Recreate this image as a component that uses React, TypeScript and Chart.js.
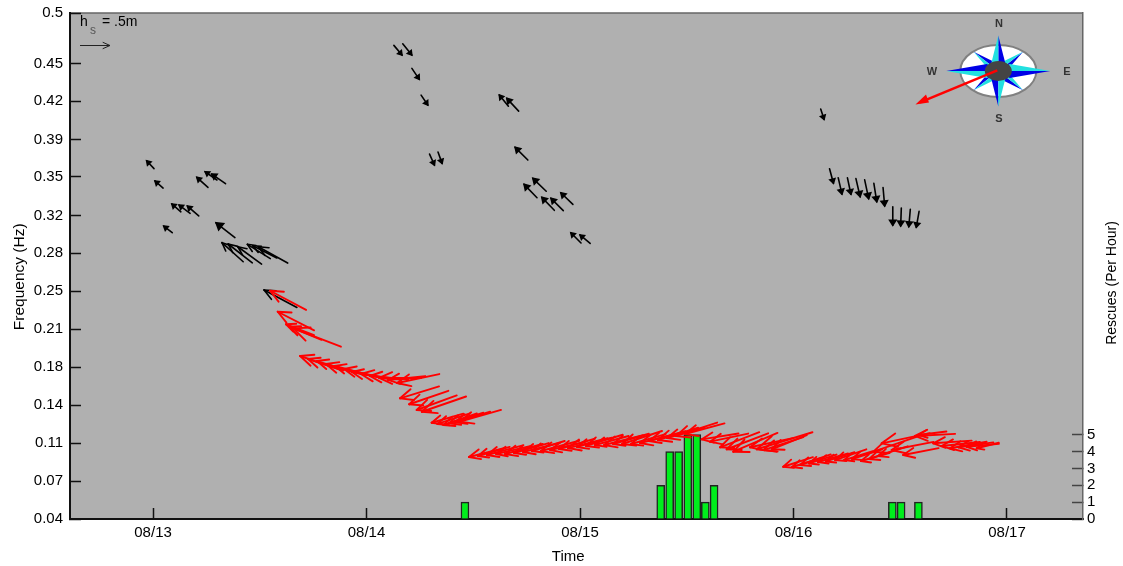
import React, { useEffect, useRef } from "react";
import { Chart, registerables } from "chart.js";

Chart.register(...registerables);

// Wave components: time in days of August, frequency (Hz), height (m), bearing of the tail seen from the head (deg)
const blackTimes = [12.970, 13.009, 13.088, 13.122, 13.161, 13.050, 13.205, 13.244, 13.275, 13.295, 13.323, 13.352, 13.397, 13.442, 13.467, 13.493, 13.520,
  14.166, 14.212, 14.247, 14.287, 14.318, 14.354,
  14.622, 14.657, 14.696, 14.779, 14.738, 14.821, 14.864, 14.910, 14.957, 15.000,
  16.143, 16.187, 16.227, 16.269, 16.312, 16.352, 16.390, 16.427, 16.465, 16.502, 16.540, 16.575];
const blackFreqs = [0.3657, 0.3473, 0.3264, 0.3254, 0.3245, 0.3063, 0.3506, 0.3557, 0.3536, 0.3093, 0.2912, 0.2900, 0.2875, 0.2897, 0.2884, 0.2875, 0.2482,
  0.4618, 0.4618, 0.4397, 0.4163, 0.3618, 0.3633,
  0.4254, 0.4224, 0.3779, 0.3497, 0.3442, 0.3324, 0.3315, 0.3366, 0.3002, 0.2982,
  0.4033, 0.3452, 0.3354, 0.3352, 0.3330, 0.3312, 0.3284, 0.3245, 0.3070, 0.3063, 0.3057, 0.3052];
const blackHeights = [0.18, 0.18, 0.2, 0.23, 0.25, 0.18, 0.25, 0.24, 0.28, 0.4, 0.475, 0.51, 0.49, 0.45, 0.45, 0.56, 0.62,
  0.21, 0.24, 0.22, 0.2, 0.2, 0.2,
  0.24, 0.29, 0.3, 0.31, 0.31, 0.3, 0.29, 0.28, 0.24, 0.22,
  0.18, 0.25, 0.28, 0.28, 0.31, 0.32, 0.31, 0.31, 0.31, 0.3, 0.29, 0.27];
const blackBearings = [137, 131, 131, 127, 131, 128, 132, 125, 125, 128, 132, 128, 126, 122, 117, 119, 118,
  320, 321, 326, 326, 336, 340,
  141, 137, 135, 134, 136, 136, 135, 134, 135, 130,
  342, 345, 347, 348, 347, 348, 351, 355, 0, 2, 5, 10];

const redTimes = [13.548, 13.584, 13.623, 13.638, 13.657,
  13.689, 13.726, 13.768, 13.810, 13.852, 13.895, 13.932, 13.974, 14.016, 14.059, 14.101, 14.143,
  14.157, 14.200, 14.235, 14.259,
  14.305, 14.332, 14.360, 14.386, 14.415, 14.438,
  14.480, 14.522, 14.564, 14.607, 14.649, 14.691, 14.733, 14.775, 14.817, 14.860, 14.902, 14.944, 14.986, 15.028, 15.070, 15.113, 15.155, 15.197, 15.239, 15.281, 15.323, 15.365, 15.408, 15.450, 15.492,
  15.570, 15.609, 15.656, 15.687, 15.718, 15.796, 15.828, 15.859, 15.898,
  15.952, 15.993, 16.031, 16.073, 16.115, 16.152, 16.195, 16.237, 16.274, 16.316, 16.354, 16.396,
  16.374, 16.413, 16.460, 16.514, 16.569, 16.585, 16.655, 16.694, 16.733, 16.772, 16.811, 16.858];
const redFreqs = [0.2475, 0.2284, 0.217, 0.2148, 0.2133,
  0.1882, 0.1854, 0.1836, 0.1809, 0.1791, 0.1764, 0.1736, 0.1718, 0.17, 0.1682, 0.1664, 0.1636,
  0.1497, 0.1443, 0.1391, 0.1375,
  0.1275, 0.1264, 0.1255, 0.127, 0.1279, 0.1285,
  0.0964, 0.0973, 0.0982, 0.0991, 0.0991, 0.1, 0.1009, 0.1018, 0.1018, 0.1027, 0.1036, 0.1045, 0.1055, 0.1064, 0.1073, 0.1073, 0.1082, 0.1082, 0.1082, 0.1091, 0.1109, 0.1118, 0.1136, 0.1155, 0.1173,
  0.1124, 0.1103, 0.1052, 0.1034, 0.1012, 0.1052, 0.1034, 0.1027, 0.1034,
  0.0875, 0.0873, 0.0891, 0.0905, 0.0918, 0.0923, 0.0936, 0.0936, 0.0945, 0.0927, 0.0945, 0.0973,
  0.1012, 0.1088, 0.1027, 0.0982, 0.1155, 0.1164, 0.1088, 0.1064, 0.1043, 0.1052, 0.1057, 0.1043];
const redHeights = [0.68, 0.68, 0.5, 0.58, 0.85,
  0.7, 0.62, 0.6, 0.66, 0.58, 0.63, 0.6, 0.68, 0.64, 0.7, 0.62, 0.72,
  0.68, 0.69, 0.71, 0.78,
  0.55, 0.57, 0.59, 0.6, 0.61, 0.71,
  0.6, 0.55, 0.62, 0.58, 0.65, 0.6, 0.63, 0.57, 0.66, 0.6, 0.62, 0.68, 0.6, 0.64, 0.58, 0.67, 0.62, 0.7, 0.6, 0.66, 0.63, 0.7, 0.65, 0.72, 0.68,
  0.62, 0.65, 0.7, 0.74, 0.8, 0.73, 0.97, 0.7, 0.63,
  0.52, 0.5, 0.54, 0.48, 0.52, 0.5, 0.55, 0.5, 0.53, 0.5, 0.55, 0.52,
  0.76, 0.82, 0.71, 0.6, 0.67, 0.47, 0.64, 0.64, 0.62, 0.59, 0.54, 0.38];
const redBearings = [118, 117, 111, 112, 111,
  109, 108, 107, 106, 105, 103, 101, 98, 95, 90, 84, 78,
  73, 71, 70, 71,
  74, 72, 71, 73, 73, 74,
  76, 74, 75, 77, 75, 74, 76, 73, 75, 77, 74, 76, 75, 73, 75, 76, 74, 72, 74, 76, 75, 73, 74, 72, 75,
  81, 78, 69, 69, 67, 78, 73, 72, 68,
  72, 73, 71, 72, 74, 72, 71, 73, 72, 74, 71, 72,
  71, 78, 79, 79, 87, 83, 86, 84, 80, 82, 85, 76];

const rescueTimes = [14.461, 15.378, 15.420, 15.462, 15.505, 15.547, 15.587, 15.628, 16.463, 16.504, 16.585];
const rescueCounts = [1, 2, 4, 4, 5, 5, 1, 2, 1, 1, 1];

const dayTicks = [13, 14, 15, 16, 17];
const dayLabels = ["08/13", "08/14", "08/15", "08/16", "08/17"];
const freqTicks = [0.04, 0.0745, 0.109, 0.1436, 0.178, 0.2127, 0.247, 0.2818, 0.316, 0.351, 0.385, 0.42, 0.454, 0.5];
const freqLabels = ["0.04", "0.07", "0.11", "0.14", "0.18", "0.21", "0.25", "0.28", "0.32", "0.35", "0.39", "0.42", "0.45", "0.5"];
const rescueTicks = [0, 1, 2, 3, 4, 5];

const PX_PER_METRE = 60;
const FONT = '"Liberation Sans", Arial, sans-serif';

function arrowHead(ctx: CanvasRenderingContext2D, x: number, y: number, bearing: number, size: number, spreadDeg = 24) {
  const spread = (spreadDeg * Math.PI) / 180;
  const a = (bearing * Math.PI) / 180;
  for (const s of [-1, 1]) {
    const b = a + s * spread;
    ctx.beginPath();
    ctx.moveTo(x, y);
    ctx.lineTo(x + Math.sin(b) * size, y - Math.cos(b) * size);
    ctx.stroke();
  }
}

function solidHead(ctx: CanvasRenderingContext2D, x: number, y: number, bearing: number, size: number) {
  const spread = (32 * Math.PI) / 180;
  const a = (bearing * Math.PI) / 180;
  ctx.beginPath();
  ctx.moveTo(x, y);
  ctx.lineTo(x + Math.sin(a - spread) * size, y - Math.cos(a - spread) * size);
  ctx.lineTo(x + Math.sin(a + spread) * size, y - Math.cos(a + spread) * size);
  ctx.closePath();
  ctx.fill();
  ctx.stroke();
}

const arrowPlugin = {
  id: "waveArrows",
  afterDatasetsDraw(chart: any) {
    const { ctx, scales, chartArea } = chart;
    ctx.save();
    ctx.beginPath();
    ctx.rect(chartArea.left, chartArea.top, chartArea.width, chartArea.height);
    ctx.clip();
    ctx.lineCap = "round";
    chart.data.datasets.forEach((ds: any) => {
      if (!ds.isArrow) return;
      ctx.strokeStyle = ds.borderColor;
      ctx.fillStyle = ds.borderColor;
      ctx.lineWidth = ds.arrowWidth;
      ds.data.forEach((p: any) => {
        const x = scales.x.getPixelForValue(p.x);
        const y = scales.y.getPixelForValue(p.y);
        const len = p.hs * PX_PER_METRE;
        const a = (p.bearing * Math.PI) / 180;
        ctx.beginPath();
        ctx.moveTo(x, y);
        ctx.lineTo(x + Math.sin(a) * len, y - Math.cos(a) * len);
        ctx.stroke();
        if (ds.solidHead && len < 25) {
          solidHead(ctx, x, y, p.bearing, Math.max(len * ds.headRatio, 4.5));
        } else {
          arrowHead(ctx, x, y, p.bearing, Math.max(len * ds.headRatio, 4.5));
        }
      });
    });
    ctx.restore();
  },
};

const backgroundPlugin = {
  id: "plotBackground",
  beforeDraw(chart: any) {
    const { ctx, chartArea: a } = chart;
    ctx.save();
    ctx.fillStyle = "#ffffff";
    ctx.fillRect(0, 0, chart.width, chart.height);
    ctx.fillStyle = "#b0b0b0";
    ctx.fillRect(a.left, a.top, a.width, a.height);
    ctx.strokeStyle = "#666666";
    ctx.lineWidth = 1.5;
    ctx.beginPath();
    ctx.moveTo(a.left, a.top);
    ctx.lineTo(a.right, a.top);
    ctx.stroke();
    ctx.restore();
  },
};

function drawCompass(ctx: CanvasRenderingContext2D) {
  const cx = 998.3;
  const cy = 71;
  ctx.save();
  ctx.beginPath();
  ctx.ellipse(cx, cy, 38, 26, 0, 0, Math.PI * 2);
  ctx.fillStyle = "#ffffff";
  ctx.fill();
  ctx.lineWidth = 2;
  ctx.strokeStyle = "#808080";
  ctx.stroke();

  const points: [number, number, number][] = [
    [24.7, -19.3, 5], [24.7, 19.3, 5], [-24.7, 19.3, 5], [-24.7, -19.3, 5],
    [0, -35.5, 7], [52, 0, 7], [0, 35.5, 7], [-52, 0, 7],
  ];
  points.forEach(([dx, dy, w]) => {
    const n = Math.hypot(dx, dy);
    const px = (-dy / n) * w;
    const py = (dx / n) * w;
    const mx = cx + dx * 0.22;
    const my = cy + dy * 0.22;
    ctx.fillStyle = "#0000e6";
    ctx.beginPath();
    ctx.moveTo(cx + dx, cy + dy);
    ctx.lineTo(mx + px, my + py);
    ctx.lineTo(cx, cy);
    ctx.closePath();
    ctx.fill();
    ctx.fillStyle = "#22e0e0";
    ctx.beginPath();
    ctx.moveTo(cx + dx, cy + dy);
    ctx.lineTo(mx - px, my - py);
    ctx.lineTo(cx, cy);
    ctx.closePath();
    ctx.fill();
  });

  ctx.beginPath();
  ctx.ellipse(cx, cy, 13.5, 10, 0, 0, Math.PI * 2);
  ctx.fillStyle = "#444444";
  ctx.fill();

  ctx.fillStyle = "#333333";
  ctx.font = `bold 11px ${FONT}`;
  ctx.textAlign = "center";
  ctx.textBaseline = "middle";
  ctx.fillText("N", 999, 23.5);
  ctx.fillText("E", 1067, 71.5);
  ctx.fillText("S", 999, 118.5);
  ctx.fillText("W", 932, 71.5);

  ctx.strokeStyle = "#ff0000";
  ctx.fillStyle = "#ff0000";
  ctx.lineWidth = 2.5;
  ctx.beginPath();
  ctx.moveTo(997.3, 70.3);
  ctx.lineTo(920, 102.4);
  ctx.stroke();
  ctx.beginPath();
  ctx.moveTo(915.5, 104.5);
  ctx.lineTo(926, 94.5);
  ctx.lineTo(929, 102.5);
  ctx.closePath();
  ctx.fill();
  ctx.restore();
}

const annotationPlugin = {
  id: "keyAndCompass",
  afterDraw(chart: any) {
    const { ctx } = chart;
    ctx.save();
    ctx.fillStyle = "#000000";
    ctx.textAlign = "left";
    ctx.textBaseline = "alphabetic";
    ctx.font = `14px ${FONT}`;
    ctx.fillText("h", 80, 26);
    ctx.fillText("= .5m", 102, 26);
    ctx.fillStyle = "#555555";
    ctx.font = `12px ${FONT}`;
    ctx.fillText("s", 90, 34);
    ctx.strokeStyle = "#222222";
    ctx.lineWidth = 1;
    ctx.beginPath();
    ctx.moveTo(80, 45.5);
    ctx.lineTo(110, 45.5);
    ctx.stroke();
    arrowHead(ctx, 110, 45.5, 270, 8);

    ctx.save();
    ctx.translate(1112, 283);
    ctx.rotate(-Math.PI / 2);
    ctx.fillStyle = "#000000";
    ctx.font = `14px ${FONT}`;
    ctx.textAlign = "center";
    ctx.textBaseline = "middle";
    ctx.fillText("Rescues (Per Hour)", 0, 0);
    ctx.restore();

    ctx.restore();
    drawCompass(ctx);
  },
};

function toArrows(t: number[], f: number[], h: number[], b: number[]) {
  return t.map((x, i) => ({ x, y: f[i], hs: h[i], bearing: b[i] }));
}

export default function App() {
  const ref = useRef<HTMLCanvasElement | null>(null);
  useEffect(() => {
    if (!ref.current) return;
    const axisFont = { family: FONT, size: 15 };
    const chart = new Chart(ref.current, {
      type: "scatter",
      data: {
        datasets: [
          {
            type: "bar",
            label: "Rescues",
            xAxisID: "x",
            yAxisID: "y2",
            data: rescueTimes.map((x, i) => ({ x, y: rescueCounts[i] })),
            backgroundColor: "#00ee1c",
            borderColor: "#222222",
            borderWidth: 1.5,
            barThickness: 8,
          },
          {
            label: "Swell",
            xAxisID: "x",
            yAxisID: "y",
            data: toArrows(blackTimes, blackFreqs, blackHeights, blackBearings),
            borderColor: "#000000",
            pointRadius: 0,
            isArrow: true,
            arrowWidth: 1.6,
            headRatio: 0.32,
            solidHead: true,
          },
          {
            label: "Main swell",
            xAxisID: "x",
            yAxisID: "y",
            data: toArrows(redTimes, redFreqs, redHeights, redBearings),
            borderColor: "#ff0000",
            pointRadius: 0,
            isArrow: true,
            arrowWidth: 1.9,
            headRatio: 0.34,
            solidHead: false,
          },
        ] as any,
      },
      options: {
        responsive: false,
        animation: false,
        events: [],
        layout: { padding: { top: 13, left: 0, right: 0, bottom: 0 } },
        plugins: { legend: { display: false }, tooltip: { enabled: false } },
        scales: {
          x: {
            type: "linear",
            min: 12.611,
            max: 17.356,
            offset: false,
            afterBuildTicks(s: any) {
              s.ticks = dayTicks.map((value) => ({ value }));
            },
            afterFit(s: any) {
              s.height = 47;
              s.paddingLeft = 0;
              s.paddingRight = 0;
            },
            ticks: {
              autoSkip: false,
              maxRotation: 0,
              padding: 16,
              color: "#000000",
              font: axisFont,
              callback: (v: any) => dayLabels[dayTicks.indexOf(v)],
            },
            grid: { offset: false, drawOnChartArea: false, drawTicks: true, tickLength: -11, tickColor: "#111111", tickWidth: 1.5 },
            border: { display: true, color: "#111111", width: 2 },
            title: { display: true, text: "Time\u00A0\u00A0\u00A0\u00A0", color: "#000000", font: axisFont, padding: { top: 0, bottom: 0 } },
          },
          y: {
            type: "linear",
            position: "left",
            min: 0.04,
            max: 0.5,
            afterBuildTicks(s: any) {
              s.ticks = freqTicks.map((value) => ({ value }));
            },
            afterFit(s: any) {
              s.width = 70;
              s.paddingTop = 0;
              s.paddingBottom = 0;
            },
            ticks: {
              autoSkip: false,
              padding: 18,
              color: "#000000",
              font: axisFont,
              callback: (v: any) => freqLabels[freqTicks.indexOf(v)],
            },
            grid: { drawOnChartArea: false, drawTicks: true, tickLength: -11, tickColor: "#111111", tickWidth: 1.5 },
            border: { display: true, color: "#111111", width: 2 },
            title: { display: true, text: "Frequency (Hz)\u00A0\u00A0\u00A0\u00A0\u00A0", color: "#000000", font: { family: FONT, size: 15.5 }, padding: { top: 10, bottom: 0 } },
          },
          y2: {
            type: "linear",
            position: "right",
            min: 0,
            max: 30,
            afterBuildTicks(s: any) {
              s.ticks = rescueTicks.map((value) => ({ value }));
            },
            afterFit(s: any) {
              s.width = 40;
              s.paddingTop = 0;
              s.paddingBottom = 0;
            },
            ticks: {
              autoSkip: false,
              padding: 15,
              color: "#000000",
              font: axisFont,
              callback: (v: any) => String(v),
            },
            grid: { drawOnChartArea: false, drawTicks: true, tickLength: -11, tickColor: "#444444", tickWidth: 1.5 },
            border: { display: true, color: "#666666", width: 1.5 },
          },
        },
      } as any,
      plugins: [backgroundPlugin, arrowPlugin, annotationPlugin],
    } as any);
    return () => chart.destroy();
  }, []);
  return (
    <div style={{ position: "fixed", left: 0, top: 0, width: 1123, height: 566 }}>
      <canvas ref={ref} width={1123} height={566} style={{ display: "block" }} />
    </div>
  );
}
